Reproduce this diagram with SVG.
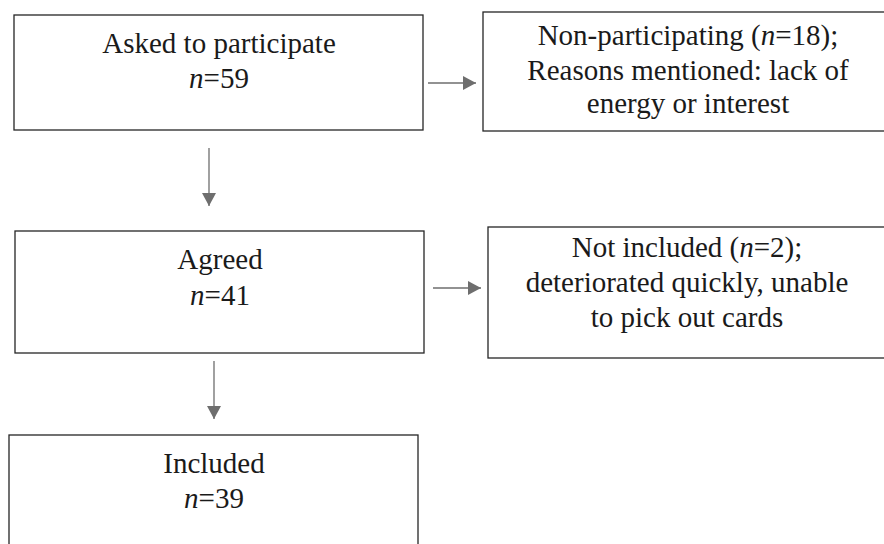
<svg xmlns="http://www.w3.org/2000/svg" width="884" height="544" viewBox="0 0 884 544">
<defs>
<style>
.box{fill:#fff;stroke:#262626;stroke-width:1.3}
.t{font-family:"Liberation Serif","DejaVu Serif",Tinos,"Times New Roman",serif;font-size:29px;fill:#1a1a1a;text-anchor:middle}
.c{stroke:#6e6e6e;stroke-width:1.3;fill:none}
</style>
<marker id="ah" markerWidth="14" markerHeight="14" refX="13" refY="7" orient="auto" markerUnits="userSpaceOnUse">
<path d="M0,0 L13,7 L0,14 Z" fill="#6e6e6e"/>
</marker>
</defs>
<rect width="884" height="544" fill="#fff"/>
<g id="asked">
<rect class="box" x="14" y="15" width="409" height="115"/>
<text class="t" x="219" y="53" font-family="Liberation Serif, serif">Asked to participate</text>
<text class="t" x="219" y="88" font-family="Liberation Serif, serif"><tspan font-style="italic">n</tspan>=59</text>
</g>
<g id="nonparticipating">
<rect class="box" x="483" y="12" width="410" height="119"/>
<text class="t" x="688" y="45" font-family="Liberation Serif, serif">Non-participating (<tspan font-style="italic">n</tspan>=18);</text>
<text class="t" x="688" y="80" font-family="Liberation Serif, serif">Reasons mentioned: lack of</text>
<text class="t" x="688" y="113" font-family="Liberation Serif, serif">energy or interest</text>
</g>
<g id="agreed">
<rect class="box" x="15" y="231" width="409" height="122"/>
<text class="t" x="220" y="269" font-family="Liberation Serif, serif">Agreed</text>
<text class="t" x="220" y="305" font-family="Liberation Serif, serif"><tspan font-style="italic">n</tspan>=41</text>
</g>
<g id="notincluded">
<rect class="box" x="488" y="227" width="405" height="131"/>
<text class="t" x="687" y="257" font-family="Liberation Serif, serif">Not included (<tspan font-style="italic">n</tspan>=2);</text>
<text class="t" x="687" y="292" font-family="Liberation Serif, serif">deteriorated quickly, unable</text>
<text class="t" x="687" y="327" font-family="Liberation Serif, serif">to pick out cards</text>
</g>
<g id="included">
<rect class="box" x="9" y="435" width="409" height="130"/>
<text class="t" x="214" y="473" font-family="Liberation Serif, serif">Included</text>
<text class="t" x="214" y="508" font-family="Liberation Serif, serif"><tspan font-style="italic">n</tspan>=39</text>
</g>
<g id="connectors">
<line class="c" x1="428" y1="83" x2="476" y2="83" marker-end="url(#ah)"/>
<line class="c" x1="209" y1="148" x2="209" y2="206" marker-end="url(#ah)"/>
<line class="c" x1="433" y1="288" x2="481" y2="288" marker-end="url(#ah)"/>
<line class="c" x1="214" y1="361" x2="214" y2="419" marker-end="url(#ah)"/>
</g>
</svg>
